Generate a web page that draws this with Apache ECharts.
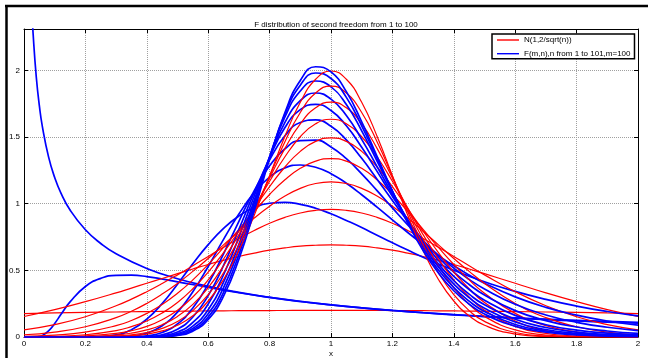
<!DOCTYPE html>
<html>
<head>
<meta charset="utf-8">
<script src="https://cdn.jsdelivr.net/npm/echarts@6/dist/echarts.min.js"></script>
<style>html,body{margin:0;padding:0;background:#fff;overflow:hidden}#c{width:648px;height:358px}</style>
</head>
<body>
<div id="c"></div>
<script>
// ---- data ----
const titleText = 'F distribution of second freedom from 1 to 100';
const xName = 'x';
const nameN = 'N(1,2/sqrt(n))';
const nameF = 'F(m,n),n from 1 to 101,m=100';
const xTicks = [0, 0.2, 0.4, 0.6, 0.8, 1, 1.2, 1.4, 1.6, 1.8, 2];
const yTicks = [0, 0.5, 1, 1.5, 2];

const xGrid = [0,0.1,0.2,0.3,0.35,0.4,0.45,0.5,0.55,0.6,0.65,0.7,0.75,0.8,0.85,0.9,0.95,1.0,1.05,1.1,1.15,1.2,1.25,1.3,1.35,1.4,1.45,1.5,1.6,1.7,1.8,1.9,2.0];

// red normal curves, n = 1, 12, 23, ..., 100
const rN1   = [.1760,.1803,.1841,.1876,.1892,.1907,.1921,.1933,.1945,.1955,.1964,.1972,.1979,.1985,.1989,.1992,.1994,.1995,.1994,.1992,.1989,.1985,.1979,.1972,.1964,.1955,.1945,.1933,.1907,.1876,.1841,.1803,.1760];
const rN12  = [.154,.205,.265,.331,.367,.403,.439,.475,.510,.544,.575,.604,.629,.651,.668,.681,.688,.691,.688,.681,.668,.651,.629,.604,.575,.544,.510,.475,.403,.331,.265,.205,.154];
const rN23  = [.054,.093,.152,.234,.284,.340,.401,.466,.534,.604,.673,.739,.799,.853,.897,.930,.950,.957,.950,.930,.897,.853,.799,.739,.673,.604,.534,.466,.340,.234,.152,.093,.054];
const rN34  = [.017,.037,.077,.145,.193,.252,.322,.402,.492,.589,.691,.793,.892,.981,1.057,1.115,1.151,1.163,1.151,1.115,1.057,.981,.892,.793,.691,.589,.492,.402,.252,.145,.077,.037,.017];
const rN45  = [.005,.014,.037,.085,.124,.177,.244,.328,.428,.544,.672,.807,.942,1.069,1.179,1.265,1.319,1.338,1.319,1.265,1.179,1.069,.942,.807,.672,.544,.428,.328,.177,.085,.037,.014,.005];
const rN56  = [.001,.005,.017,.048,.078,.120,.180,.259,.362,.487,.633,.795,.964,1.128,1.275,1.392,1.467,1.493,1.467,1.392,1.275,1.128,.964,.795,.633,.487,.362,.259,.120,.048,.017,.005,.001];
const rN67  = [0,.002,.008,.027,.047,.080,.130,.201,.300,.428,.585,.768,.967,1.168,1.352,1.502,1.599,1.633,1.599,1.502,1.352,1.168,.967,.768,.585,.428,.300,.201,.080,.027,.008,.002,0];
const rN78  = [0,.001,.003,.015,.029,.053,.092,.154,.245,.370,.534,.733,.958,1.193,1.415,1.598,1.719,1.762,1.719,1.598,1.415,1.193,.958,.733,.534,.370,.245,.154,.053,.015,.003,.001,0];
const rN89  = [0,0,.002,.008,.017,.034,.065,.117,.198,.317,.482,.691,.939,1.206,1.465,1.684,1.830,1.882,1.830,1.684,1.465,1.206,.939,.691,.482,.317,.198,.117,.034,.008,.002,0,0];
const rN100 = [0,0,.001,.004,.010,.022,.046,.088,.159,.270,.431,.648,.913,1.210,1.506,1.760,1.933,1.995,1.933,1.760,1.506,1.210,.913,.648,.431,.270,.159,.088,.022,.004,.001,0,0];

// blue F curves
const xDiv = [0.02,0.025,0.03,0.04,0.05,0.06,0.08,0.1,0.12,0.15,0.2,0.25,0.3,0.4,0.5,0.6,0.7,0.8,0.9,1.0,1.1,1.2,1.3,1.4,1.5,1.6,1.7,1.8,1.9,2.0];
const bDiv = [2.785,2.485,2.263,1.950,1.735,1.576,1.351,1.196,1.081,0.9525,0.804,0.7015,0.6244,0.5142,0.4373,0.3796,0.3341,0.2972,0.2664,0.2407,0.2183,0.1989,0.1818,0.1666,0.1532,0.1411,0.1303,0.1205,0.1116,0.1035];
const xHump = [0,0.04,0.05,0.06,0.08,0.1,0.12,0.15,0.2,0.25,0.3,0.35,0.4,0.5,0.6,0.7,0.8,0.9,1.0,1.1,1.2,1.3,1.4,1.5,1.6,1.7,1.8,1.9,2.0];
const bHump = [0,0.0006,0.0036,0.0113,0.0459,0.102,0.168,0.263,0.379,0.440,0.4625,0.4635,0.4525,0.414,0.372,0.332,0.297,0.267,0.241,0.218,0.199,0.1825,0.168,0.155,0.1436,0.1336,0.1247,0.1166,0.1094];
const bF12  = [0,0,0.0002,0.016,0.055,0.134,0.251,0.396,0.549,0.693,0.815,0.908,0.971,1.003,1.010,0.995,0.966,0.924,0.874,0.821,0.763,0.707,0.652,0.598,0.548,0.500,0.456,0.414,0.342,0.282,0.232,0.191,0.158];
const bF23  = [0,0,0,0.001,0.0067,0.029,0.084,0.187,0.340,0.529,0.732,0.922,1.083,1.199,1.268,1.290,1.273,1.225,1.153,1.067,0.974,0.879,0.784,0.695,0.611,0.534,0.465,0.403,0.301,0.222,0.164,0.120,0.089];
const bF34  = [0,0,0,0.0001,0.0013,0.009,0.034,0.098,0.218,0.398,0.624,0.868,1.098,1.284,1.412,1.473,1.476,1.425,1.337,1.224,1.098,0.968,0.841,0.722,0.613,0.516,0.432,0.360,0.245,0.165,0.110,0.073,0.048];
const bF45  = [0,0,0,0,0.0003,0.003,0.017,0.058,0.150,0.310,0.537,0.807,1.085,1.328,1.509,1.609,1.628,1.580,1.478,1.340,1.184,1.024,0.869,0.726,0.598,0.487,0.394,0.315,0.198,0.123,0.075,0.045,0.027];
const bF56  = [0,0,0,0,0,0.0015,0.009,0.037,0.109,0.248,0.467,0.749,1.058,1.345,1.571,1.705,1.745,1.699,1.584,1.423,1.242,1.056,0.878,0.716,0.574,0.455,0.356,0.276,0.162,0.092,0.052,0.029,0.016];
const bF67  = [0,0,0,0,0,0.001,0.006,0.025,0.082,0.204,0.411,0.695,1.025,1.346,1.609,1.772,1.830,1.784,1.661,1.482,1.278,1.071,0.874,0.698,0.547,0.422,0.321,0.241,0.133,0.071,0.037,0.019,0.010];
const bF78  = [0,0,0,0,0,0.0005,0.004,0.019,0.065,0.174,0.371,0.657,1.003,1.354,1.651,1.845,1.920,1.876,1.743,1.546,1.320,1.090,0.876,0.686,0.526,0.397,0.295,0.215,0.112,0.056,0.027,0.013,0.006];
const bF89  = [0,0,0,0,0,0.0003,0.003,0.014,0.053,0.150,0.335,0.618,0.975,1.347,1.671,1.889,1.980,1.939,1.797,1.584,1.341,1.095,0.866,0.667,0.503,0.370,0.269,0.192,0.094,0.045,0.020,0.009,0.004];
const bF100 = [0,0,0,0,0,0.0002,0.002,0.011,0.044,0.132,0.306,0.584,0.946,1.336,1.683,1.924,2.027,1.988,1.840,1.614,1.355,1.095,0.855,0.649,0.480,0.347,0.247,0.172,0.081,0.036,0.016,0.007,0.003];

// ---- build chart ----
const RED = '#ff0000', BLUE = '#0000ff';
const FONT = 'Liberation Sans, Arial, sans-serif';
function pairs(xs, ys) { return xs.map((x, i) => [x, ys[i]]); }
function mk(name, xs, ys, color, w) {
  return {
    type: 'line', name: name, data: pairs(xs, ys), smooth: 0.5,
    symbol: 'none', showSymbol: false, clip: true, silent: true,
    lineStyle: { color: color, width: w }, itemStyle: { color: color },
    emphasis: { disabled: true }
  };
}
const RW = 1.2, BW = 1.7;
const order = [
  mk(nameN, xGrid, rN1, RED, RW),
  mk(nameF, xDiv, bDiv, BLUE, BW),
  mk(nameF, xHump, bHump, BLUE, BW),
  mk(nameN, xGrid, rN12, RED, RW), mk(nameF, xGrid, bF12, BLUE, BW),
  mk(nameN, xGrid, rN23, RED, RW), mk(nameF, xGrid, bF23, BLUE, BW),
  mk(nameN, xGrid, rN34, RED, RW), mk(nameF, xGrid, bF34, BLUE, BW),
  mk(nameN, xGrid, rN45, RED, RW), mk(nameF, xGrid, bF45, BLUE, BW),
  mk(nameN, xGrid, rN56, RED, RW), mk(nameF, xGrid, bF56, BLUE, BW),
  mk(nameN, xGrid, rN67, RED, RW), mk(nameF, xGrid, bF67, BLUE, BW),
  mk(nameN, xGrid, rN78, RED, RW), mk(nameF, xGrid, bF78, BLUE, BW),
  mk(nameN, xGrid, rN89, RED, RW), mk(nameF, xGrid, bF89, BLUE, BW),
  mk(nameN, xGrid, rN100, RED, RW), mk(nameF, xGrid, bF100, BLUE, BW)
];

const axisLine = { show: true, onZero: false, lineStyle: { color: '#000', width: 1 } };
const gridLine = { show: true, lineStyle: { color: '#a0a0a0', width: 1, type: [1, 1] } };
const tick = { show: true, inside: true, length: 4, lineStyle: { color: '#000', width: 1 } };
const label = { fontSize: 8, fontFamily: FONT, color: '#000' };

const chart = echarts.init(document.getElementById('c'), null, { renderer: 'canvas' });
chart.setOption({
  animation: false,
  backgroundColor: '#fff',
  title: {
    text: titleText, left: 331, top: 16, textAlign: 'center',
    textStyle: { fontSize: 8, fontWeight: 'normal', fontFamily: FONT, color: '#000' }
  },
  legend: {
    orient: 'vertical', left: 492, top: 34,
    data: [nameN, nameF], selectedMode: false,
    icon: 'rect', itemWidth: 22, itemHeight: 1.4, itemGap: 3.7,
    padding: [1, 4, 0, 5],
    borderColor: '#000', borderWidth: 1.5, backgroundColor: '#fff',
    textStyle: { fontSize: 8, lineHeight: 10, fontFamily: FONT, color: '#000' }
  },
  grid: { left: 24, right: 10, top: 29, bottom: 21, containLabel: false },
  xAxis: [
    { type: 'value', position: 'bottom', min: 0, max: 2, interval: 0.2,
      axisLine: axisLine, axisTick: tick, splitLine: gridLine,
      axisLabel: Object.assign({ margin: 3 }, label) },
    { type: 'value', position: 'top', min: 0, max: 2, interval: 0.2,
      axisLine: axisLine, axisTick: tick, splitLine: { show: false },
      axisLabel: { show: false } }
  ],
  yAxis: [
    { type: 'value', position: 'left', min: 0, max: 2.31, interval: 0.5,
      axisLine: axisLine, axisTick: tick, splitLine: gridLine,
      axisLabel: Object.assign({ margin: 4, showMaxLabel: false }, label) },
    { type: 'value', position: 'right', min: 0, max: 2.31, interval: 0.5,
      axisLine: axisLine, axisTick: tick, splitLine: { show: false },
      axisLabel: { show: false } }
  ],
  graphic: [
    { type: 'line', shape: { x1: 5, y1: 6, x2: 648, y2: 6 }, style: { stroke: '#000', lineWidth: 2.5 } },
    { type: 'line', shape: { x1: 6.5, y1: 5, x2: 6.5, y2: 358 }, style: { stroke: '#000', lineWidth: 2.5 } },
    { type: 'text', x: 331, y: 354, style: { text: xName, fontSize: 8, fontFamily: FONT, fill: '#000', align: 'center', verticalAlign: 'middle' } }
  ],
  series: order
});
</script>
</body>
</html>
